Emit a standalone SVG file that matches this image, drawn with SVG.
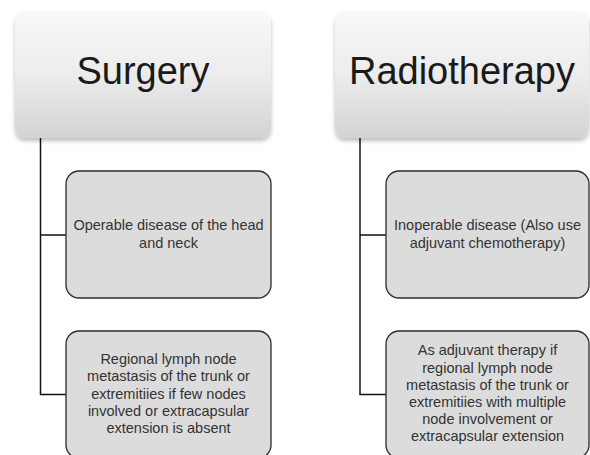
<svg xmlns="http://www.w3.org/2000/svg" width="590" height="455" viewBox="0 0 590 455">
<defs>
<linearGradient id="hg" x1="0" y1="0" x2="0" y2="1">
<stop offset="0" stop-color="#f9f9f9"/>
<stop offset="0.5" stop-color="#ececec"/>
<stop offset="1" stop-color="#d3d3d3"/>
</linearGradient>
<filter id="sh" x="-10%" y="-10%" width="120%" height="130%">
<feDropShadow dx="0" dy="3" stdDeviation="2" flood-color="#000" flood-opacity="0.25"/>
</filter>
</defs>
<style>
.head{fill:url(#hg);filter:url(#sh)}
.ht{font-family:"Liberation Sans",Arial,sans-serif;font-size:38px;fill:#1a1a1a;text-anchor:middle}
.child{fill:#dcdcdc;stroke:#2b2b2b;stroke-width:1.3}
.ct{font-family:"Liberation Sans",Arial,sans-serif;font-size:14.5px;fill:#333;text-anchor:middle}
.conn{fill:none;stroke:#111;stroke-width:1.5}
</style>
<g id="connectors">
<path class="conn" d="M40.5 138 V394.5 H66 M40.5 235 H66"/>
<path class="conn" d="M360 138 V394.5 H386 M360 235 H386"/>
</g>
<g id="surgery">
<rect class="head" x="15" y="11" width="256" height="127" rx="10"/>
<text class="ht" x="143" y="84">Surgery</text>
</g>
<g id="radiotherapy">
<rect class="head" x="335" y="11" width="254" height="127" rx="10"/>
<text class="ht" x="462" y="84">Radiotherapy</text>
</g>
<g id="s1">
<rect class="child" x="66" y="171" width="205" height="127" rx="13"/>
<text class="ct" x="168.5" y="230">Operable disease of the head</text>
<text class="ct" x="168.5" y="247.5">and neck</text>
</g>
<g id="s2">
<rect class="child" x="66" y="331" width="205" height="127" rx="13"/>
<text class="ct" x="168.5" y="364">Regional lymph node</text>
<text class="ct" x="168.5" y="381">metastasis of the trunk or</text>
<text class="ct" x="168.5" y="398.5">extremitiies if few nodes</text>
<text class="ct" x="168.5" y="415.5">involved or extracapsular</text>
<text class="ct" x="168.5" y="433">extension is absent</text>
</g>
<g id="r1">
<rect class="child" x="386" y="171" width="203" height="127" rx="13"/>
<text class="ct" x="487.5" y="230">Inoperable disease (Also use</text>
<text class="ct" x="487.5" y="247.5">adjuvant chemotherapy)</text>
</g>
<g id="r2">
<rect class="child" x="386" y="331" width="203" height="127" rx="13"/>
<text class="ct" x="487.5" y="355">As adjuvant therapy if</text>
<text class="ct" x="487.5" y="372.5">regional lymph node</text>
<text class="ct" x="487.5" y="389.5">metastasis of the trunk or</text>
<text class="ct" x="487.5" y="406.5">extremitiies with multiple</text>
<text class="ct" x="487.5" y="423.5">node involvement or</text>
<text class="ct" x="487.5" y="441">extracapsular extension</text>
</g>
</svg>
